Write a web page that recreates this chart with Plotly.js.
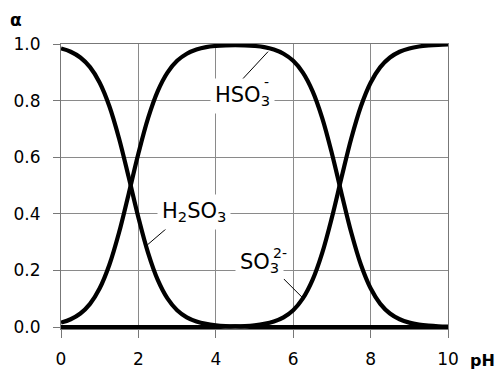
<!DOCTYPE html>
<html>
<head>
<meta charset="utf-8">
<script src="https://cdn.plot.ly/plotly-3.0.1.min.js"></script>
<style>
  html, body { margin: 0; padding: 0; background: #fff; }
  #chart { width: 499px; height: 371px; }
</style>
</head>
<body>
<div id="chart"></div>
<script>
// pH の値（横軸, 0.25 刻み）
const pH = [0, 0.25, 0.5, 0.75, 1, 1.25, 1.5, 1.75, 2, 2.25, 2.5, 2.75, 3, 3.25, 3.5, 3.75,
            4, 4.25, 4.5, 4.75, 5, 5.25, 5.5, 5.75, 6, 6.25, 6.5, 6.75, 7, 7.25, 7.5, 7.75,
            8, 8.25, 8.5, 8.75, 9, 9.25, 9.5, 9.75, 10];

// 各化学種の分率 α
const alphaH2SO3 = [0.9844, 0.9726, 0.9523, 0.9182, 0.8632, 0.7801, 0.6661, 0.5288, 0.3869, 0.2619,
                    0.1663, 0.1009, 0.0593, 0.0343, 0.0196, 0.0111, 0.0063, 0.0035, 0.0020, 0.0011,
                    0.0006, 0, 0, 0, 0, 0, 0, 0, 0, 0, 0, 0, 0, 0, 0, 0, 0, 0, 0, 0, 0];
const alphaHSO3 = [0.0156, 0.0274, 0.0477, 0.0818, 0.1368, 0.2199, 0.3339, 0.4712, 0.6131, 0.7381,
                   0.8337, 0.8991, 0.9407, 0.9657, 0.9804, 0.9889, 0.9931, 0.9954, 0.9960, 0.9954,
                   0.9931, 0.9889, 0.9804, 0.9657, 0.9407, 0.8991, 0.8337, 0.7381, 0.6131, 0.4712,
                   0.3339, 0.2199, 0.1368, 0.0818, 0.0477, 0.0274, 0.0156, 0.0088, 0.0050, 0.0028, 0.0016];
const alphaSO3 = [0, 0, 0, 0, 0, 0, 0, 0, 0, 0, 0, 0, 0, 0, 0, 0,
                  0.0006, 0.0011, 0.0020, 0.0035, 0.0063, 0.0111, 0.0196, 0.0343, 0.0593, 0.1009,
                  0.1663, 0.2619, 0.3869, 0.5288, 0.6661, 0.7801, 0.8632, 0.9182, 0.9523, 0.9726,
                  0.9844, 0.9912, 0.9950, 0.9972, 0.9984];

const xTicks = [0, 2, 4, 6, 8, 10];
const yTicks = [0, 0.2, 0.4, 0.6, 0.8, 1.0];

const FONT = 'DejaVu Sans, Verdana, sans-serif';

function curve(y) {
  return {
    x: pH, y: y,
    type: 'scatter', mode: 'lines',
    line: { color: '#000', width: 4.2, shape: 'spline', smoothing: 1 },
    hoverinfo: 'skip', showlegend: false
  };
}

const traces = [curve(alphaH2SO3), curve(alphaHSO3), curve(alphaSO3)];

// ラベル（白背景で格子線を隠す）
function label(text, x, y, size) {
  return {
    xref: 'x', yref: 'y', x: x, y: y, text: text, showarrow: false,
    font: { family: FONT, size: size, color: '#000' },
    bgcolor: size > 16 ? '#fff' : 'rgba(0,0,0,0)', borderpad: size > 16 ? 4 : 0
  };
}

// 引き出し線
function leader(x, y, ax, ay) {
  return {
    xref: 'x', yref: 'y', x: x, y: y, ax: ax, ay: ay, text: ' ',
    showarrow: true, arrowhead: 0, arrowwidth: 1, arrowcolor: '#000',
    font: { size: 1 }, borderpad: 0
  };
}

const annotations = [
  leader(5.35, 0.973, -26, 28),
  leader(2.23, 0.29, 21, -18),
  leader(6.26, 0.101, -20, -20),
  label('HSO<sub>3</sub>', 4.69, 0.816, 21),
  label('-', 5.32, 0.866, 14),
  label('H<sub>2</sub>SO<sub>3</sub>', 3.44, 0.406, 21),
  label('SO<sub>3</sub>', 5.14, 0.226, 21),
  label('2-', 5.66, 0.262, 14),
  {
    xref: 'paper', yref: 'paper', x: -0.116, y: 1.084, text: '<b>α</b>',
    xanchor: 'center', yanchor: 'middle', borderpad: 0,
    showarrow: false, font: { family: FONT, size: 17, color: '#000' }
  },
  {
    xref: 'paper', yref: 'paper', x: 1.088, y: -0.109, text: '<b>pH</b>',
    xanchor: 'center', yanchor: 'middle', borderpad: 0,
    showarrow: false, font: { family: FONT, size: 16, color: '#000' }
  }
];

const layout = {
  width: 499, height: 371,
  margin: { l: 61, r: 51, t: 44, b: 42 },
  paper_bgcolor: '#fff', plot_bgcolor: '#fff',
  font: { family: FONT, size: 17, color: '#000' },
  xaxis: {
    range: [0, 10], tickvals: xTicks, ticktext: xTicks.map(String),
    showgrid: true, gridcolor: '#8a8a8a', gridwidth: 1,
    showline: true, mirror: true, linecolor: '#777', linewidth: 1,
    ticks: 'outside', ticklen: 8, tickcolor: '#777',
    ticklabelstandoff: 7,
    zeroline: false, fixedrange: true
  },
  yaxis: {
    range: [-0.007, 1], tickvals: yTicks, ticktext: yTicks.map(v => v.toFixed(1)),
    showgrid: true, gridcolor: '#8a8a8a', gridwidth: 1,
    showline: true, mirror: true, linecolor: '#777', linewidth: 1,
    ticks: 'outside', ticklen: 7, tickcolor: '#777',
    ticklabelstandoff: 9,
    zeroline: false, fixedrange: true
  },
  annotations: annotations
};

Plotly.newPlot('chart', traces, layout, { staticPlot: true, displayModeBar: false });
</script>
</body>
</html>
